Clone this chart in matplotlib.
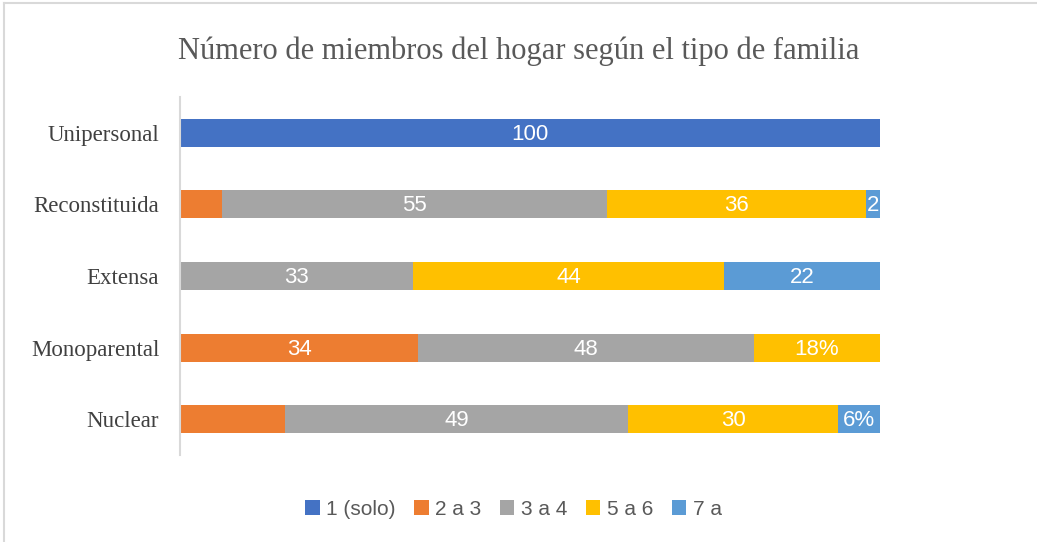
import matplotlib
matplotlib.use('Agg')
import matplotlib.pyplot as plt
import numpy as np

# data (bottom to top)
categories = ["Nuclear", "Monoparental", "Extensa", "Reconstituida", "Unipersonal"]
series_names = ["1 (solo)", "2 a 3", "3 a 4", "5 a 6", "7 a"]
colors = ["#4472C4", "#ED7D31", "#A5A5A5", "#FFC000", "#5B9BD5"]

solo = [0, 0, 0, 0, 100]
dos_tres = [15, 34, 0, 6, 0]
tres_cuatro = [49, 48, 33, 55, 0]
cinco_seis = [30, 18, 44, 37, 0]
siete = [6, 0, 22, 2, 0]

solo_lbl = ["", "", "", "", "100"]
dos_tres_lbl = ["", "34", "", "", ""]
tres_cuatro_lbl = ["49", "48", "33", "55", ""]
cinco_seis_lbl = ["30", "18%", "44", "36", ""]
siete_lbl = ["6%", "", "22", "2", ""]

series = [solo, dos_tres, tres_cuatro, cinco_seis, siete]
labels = [solo_lbl, dos_tres_lbl, tres_cuatro_lbl, cinco_seis_lbl, siete_lbl]

data = np.array(series, dtype=float)
pct = data / data.sum(axis=0) * 100

fig = plt.figure(figsize=(10.37, 5.42), dpi=100)
ax = fig.add_axes([0.1736, 0.1605, 0.675, 0.6605])

y = np.arange(len(categories))
left = np.zeros(len(categories))
handles = []
for i in range(len(series)):
    b = ax.barh(y, pct[i], left=left, height=0.39, color=colors[i], label=series_names[i])
    handles.append(b)
    for j in range(len(categories)):
        if labels[i][j]:
            ax.text(left[j] + pct[i][j] / 2, y[j] - 0.02, labels[i][j], ha='center', va='center',
                    color='white', fontsize=16, family='Liberation Sans')
    left += pct[i]

ax.set_xlim(0, 100)
ax.set_ylim(-0.5, 4.5)
ax.set_yticks(y)
ax.set_yticklabels(categories, family='Liberation Serif', fontsize=16.5, color='#404040')
ax.tick_params(axis='y', length=0, pad=15)
ax.set_xticks([])
for s in ['top', 'right', 'bottom']:
    ax.spines[s].set_visible(False)
ax.spines['left'].set_color('#D9D9D9')
ax.spines['left'].set_linewidth(1.5)

fig.text(0.5, 0.905, "Número de miembros del hogar según el tipo de familia",
         ha='center', va='center', family='Liberation Serif', fontsize=22, color='#595959')

leg = fig.legend(handles=handles, loc='center', bbox_to_anchor=(0.495, 0.06), ncol=5,
                 frameon=False, prop={'family': 'Liberation Sans', 'size': 15},
                 handlelength=0.7, handleheight=0.7, handletextpad=0.3, columnspacing=0.9)
for t in leg.get_texts():
    t.set_color('#595959')

# outer chart frame
fig.add_artist(plt.Line2D([0.004, 1], [0.995, 0.995], transform=fig.transFigure, color='#D9D9D9', lw=1.5))
fig.add_artist(plt.Line2D([0.004, 0.004], [0, 0.995], transform=fig.transFigure, color='#D9D9D9', lw=1.5))

plt.savefig("out.png", dpi=100)
